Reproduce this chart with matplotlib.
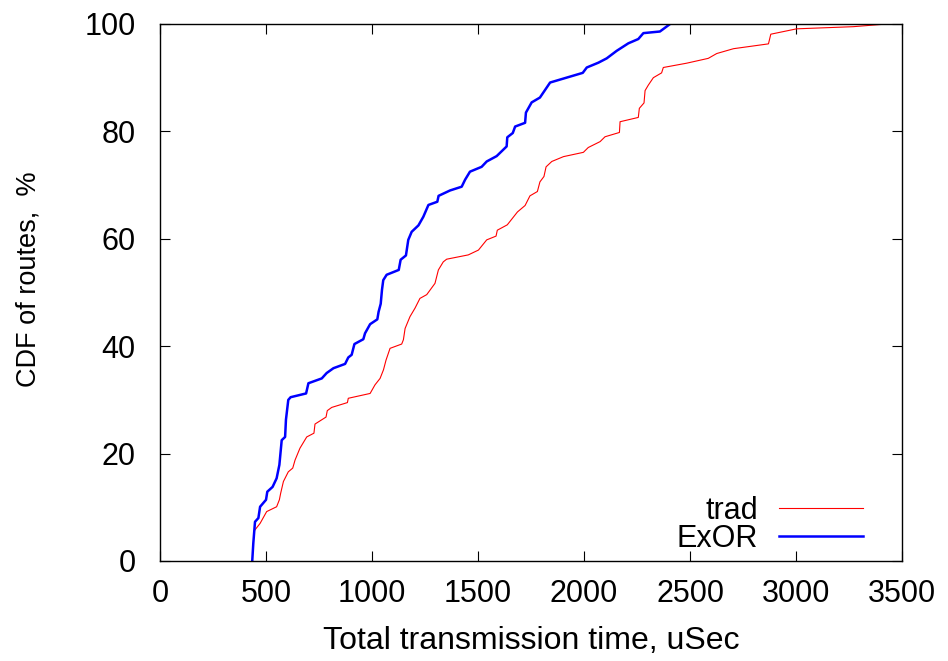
import matplotlib
matplotlib.use("Agg")
import matplotlib.pyplot as plt

plt.rcParams['font.family'] = ['Liberation Sans', 'DejaVu Sans']

# CDF curves (time in uSec, CDF in %)
exor_t = [435, 440, 448, 464, 472, 500, 506, 531, 550, 563, 574, 590, 594, 605, 616,
          689, 700, 763, 786, 818, 873, 888, 904, 917, 959, 967, 991, 1025, 1031, 1041,
          1047, 1053, 1069, 1126, 1135, 1160, 1171, 1187, 1219, 1242, 1266, 1308, 1314,
          1368, 1423, 1439, 1462, 1517, 1541, 1588, 1635, 1638, 1664, 1675, 1722, 1726,
          1753, 1792, 1816, 1840, 1934, 1994, 2013, 2068, 2107, 2154, 2209, 2256, 2280,
          2358, 2406]
exor_cdf = [0, 3.3, 7.3, 8, 10.1, 11.4, 12.9, 13.8, 15.4, 17.9, 22.5, 23.1, 26.3, 30, 30.5,
            31.2, 33.1, 34, 35, 35.9, 36.7, 37.9, 38.4, 40.4, 41.3, 42.4, 44.1, 45, 46.4, 47.9,
            50.5, 52.3, 53.3, 54.2, 56.1, 56.9, 59.8, 61.3, 62.5, 64.1, 66.3, 66.9, 68,
            69, 69.7, 71, 72.5, 73.4, 74.4, 75.4, 77.2, 78.9, 79.7, 80.9, 81.6, 83.5,
            85.4, 86.3, 87.7, 89.1, 90.2, 90.9, 91.9, 92.8, 93.6, 95, 96.4, 97.2, 98.3,
            98.6, 100]

trad_t = [448, 472, 503, 550, 563, 569, 582, 605, 626, 637, 660, 692, 726, 731, 747, 783,
          789, 810, 884, 888, 991, 1014, 1038, 1054, 1066, 1085, 1140, 1148, 1156, 1179,
          1203, 1226, 1258, 1297, 1313, 1336, 1352, 1454, 1502, 1541, 1585, 1591, 1638,
          1686, 1722, 1745, 1780, 1792, 1811, 1821, 1848, 1903, 1997, 2020, 2076, 2099,
          2167, 2170, 2256, 2261, 2283, 2288, 2303, 2327, 2366, 2374, 2484, 2586, 2626,
          2705, 2870, 2881, 3003, 3270, 3428]
trad_cdf = [5.8, 7, 9.2, 10.1, 11.4, 12.6, 14.8, 16.6, 17.3, 18.8, 21, 23.1, 23.8, 25.5, 25.9, 26.8,
            28, 28.6, 29.5, 30.3, 31.2, 32.8, 34, 35.6, 37.4, 39.6, 40.4, 41.2, 43.3, 45.5,
            47.1, 48.9, 49.6, 51.7, 54.2, 55.7, 56.2, 57, 57.9, 59.8, 60.5, 61.6, 62.6,
            65, 66.2, 68, 68.8, 70.6, 71.6, 73.4, 74.4, 75.3, 76.1, 77, 78.1, 79,
            79.8, 81.8, 82.6, 84.3, 85.3, 87.6, 88.6, 90, 90.9, 91.9, 92.7, 93.6, 94.5,
            95.4, 96.3, 98.1, 99.1, 99.5, 100]

xticks = [0, 500, 1000, 1500, 2000, 2500, 3000, 3500]
yticks = [0, 20, 40, 60, 80, 100]

fs = 22

fig = plt.figure(figsize=(9.48, 6.61), dpi=100)
ax = fig.add_axes([0.1688, 0.1513, 0.9515 - 0.1688, 0.9637 - 0.1513])

ax.plot(trad_t, trad_cdf, color='#ff0000', lw=0.8, label='trad')
ax.plot(exor_t, exor_cdf, color='#0000ff', lw=1.8, label='ExOR')

ax.set_xlim(0, 3500)
ax.set_ylim(0, 100)
ax.set_xticks(xticks)
ax.set_yticks(yticks)
ax.tick_params(direction='in', length=7, width=0.8, top=True, right=True,
               labelsize=fs)
ax.tick_params(axis='x', pad=13)
ax.tick_params(axis='y', pad=17.5)
for s in ax.spines.values():
    s.set_linewidth(1.0)

ax.set_xlabel('Total transmission time, uSec', fontsize=fs + 1, labelpad=12)
# gnuplot squeezes the rotated label, so it's set a bit smaller
ax.set_ylabel('CDF of routes,  %', fontsize=19.5)
ax.yaxis.set_label_coords(-0.16, 0.525)

ax.legend(loc='lower right', frameon=False, markerfirst=False, fontsize=fs,
          handlelength=2.75, handletextpad=0.69, labelspacing=-0.05,
          borderaxespad=0, borderpad=0, bbox_to_anchor=(0.9474, 0.013))

fig.savefig('out.png', dpi=100)
